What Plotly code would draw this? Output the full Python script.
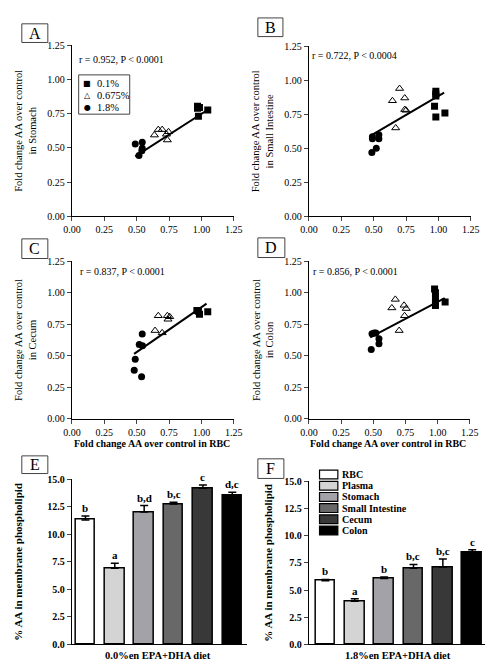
import plotly.graph_objects as go

W, H = 493, 664
FONT = "Liberation Serif"

# ---------------- data ----------------
groups = ["0.1%", "0.675%", "1.8%"]

A_sq_x = [0.97, 0.985, 0.97, 0.977, 1.049]
A_sq_y = [0.805, 0.795, 0.79, 0.731, 0.778]
A_tri_x = [0.637, 0.667, 0.697, 0.746, 0.737, 0.73]
A_tri_y = [0.594, 0.634, 0.634, 0.618, 0.558, 0.60]
A_cir_x = [0.489, 0.543, 0.543, 0.518, 0.54]
A_cir_y = [0.529, 0.541, 0.498, 0.445, 0.48]
A_fit = [0.609, 0.14, 0.489, 1.059]  # slope, intercept, x-start, x-end

B_sq_x = [0.98, 0.98, 0.98, 0.97, 0.98, 1.05]
B_sq_y = [0.92, 0.90, 0.885, 0.81, 0.73, 0.76]
B_tri_x = [0.70, 0.645, 0.74, 0.74, 0.75, 0.67]
B_tri_y = [0.94, 0.85, 0.87, 0.785, 0.78, 0.65]
B_cir_x = [0.486, 0.52, 0.49, 0.49, 0.54, 0.54]
B_cir_y = [0.47, 0.50, 0.57, 0.585, 0.57, 0.60]
B_fit = [0.558, 0.327, 0.474, 1.044]

C_sq_x = [0.977, 0.965, 0.985, 1.049]
C_sq_y = [0.854, 0.86, 0.83, 0.849]
C_tri_x = [0.667, 0.642, 0.737, 0.742, 0.755, 0.697]
C_tri_y = [0.818, 0.70, 0.818, 0.79, 0.81, 0.682]
C_cir_x = [0.543, 0.489, 0.481, 0.538, 0.52, 0.545]
C_cir_y = [0.672, 0.471, 0.385, 0.333, 0.59, 0.58]
C_fit = [0.714, 0.172, 0.48, 1.04]

D_sq_x = [0.976, 0.983, 0.983, 0.983, 0.983, 1.058]
D_sq_y = [1.031, 1.0, 0.96, 0.92, 0.90, 0.927]
D_tri_x = [0.671, 0.644, 0.739, 0.756, 0.743, 0.701]
D_tri_y = [0.948, 0.88, 0.901, 0.875, 0.818, 0.70]
D_cir_x = [0.484, 0.544, 0.544, 0.507, 0.52, 0.49]
D_cir_y = [0.549, 0.635, 0.596, 0.68, 0.68, 0.675]
D_fit = [0.539, 0.39, 0.476, 1.055]

scatter_titles = ["in Stomach", "in Small Intestine", "in Cecum", "in Colon"]
r_texts = ["r = 0.952, P < 0.0001", "r = 0.722, P < 0.0004",
           "r = 0.837, P < 0.0001", "r = 0.856, P < 0.0001"]
scatter_ticks = [0.0, 0.25, 0.5, 0.75, 1.0, 1.25]

tissues = ["RBC", "Plasma", "Stomach", "Small Intestine", "Cecum", "Colon"]
bar_colors = ["#ffffff", "#d4d4d4", "#a2a2a7", "#686868", "#383838", "#000000"]
E_vals = [11.32, 6.92, 12.03, 12.77, 14.2, 13.54]
E_err = [0.35, 0.45, 0.59, 0.15, 0.29, 0.30]
E_letters = ["b", "a", "b,d", "b,c", "c", "d,c"]
F_vals = [5.85, 3.96, 6.07, 7.0, 7.12, 8.47]
F_err = [0.13, 0.24, 0.13, 0.36, 0.75, 0.23]
F_letters = ["b", "a", "b", "b,c", "b,c", "c"]
bar_ticks = [0.0, 2.5, 5.0, 7.5, 10.0, 12.5, 15.0]

# ---------------- layout helpers ----------------
def px(x):
    return x / W

def py(y):
    return 1 - y / H

# pixel boxes: (left, right, top, bottom)
boxes = {
    1: (57, 225, 32, 206),
    2: (303, 471, 33, 206),
    3: (57, 225, 252, 412),
    4: (303, 470, 252, 412),
    5: (57, 239, 474, 642),
    6: (303, 492, 476, 642),
}

fig = go.Figure()

scatter_sets = [
    (A_sq_x, A_sq_y, A_tri_x, A_tri_y, A_cir_x, A_cir_y, A_fit),
    (B_sq_x, B_sq_y, B_tri_x, B_tri_y, B_cir_x, B_cir_y, B_fit),
    (C_sq_x, C_sq_y, C_tri_x, C_tri_y, C_cir_x, C_cir_y, C_fit),
    (D_sq_x, D_sq_y, D_tri_x, D_tri_y, D_cir_x, D_cir_y, D_fit),
]

for i, (sx, sy, tx, ty, cx, cy, fit) in enumerate(scatter_sets):
    n = i + 1
    xa = "x" if n == 1 else f"x{n}"
    ya = "y" if n == 1 else f"y{n}"
    slope, icpt, x0, x1 = fit
    fig.add_trace(go.Scatter(x=[x0, x1], y=[icpt + slope * x0, icpt + slope * x1],
                             mode="lines", line=dict(color="black", width=2),
                             xaxis=xa, yaxis=ya, showlegend=False))
    fig.add_trace(go.Scatter(x=sx, y=sy, mode="markers", name=groups[0],
                             marker=dict(symbol="square", size=7, color="black"),
                             xaxis=xa, yaxis=ya, showlegend=False))
    fig.add_trace(go.Scatter(x=tx, y=ty, mode="markers", name=groups[1],
                             marker=dict(symbol="triangle-up-open", size=7, color="black",
                                         line=dict(width=1, color="black")),
                             xaxis=xa, yaxis=ya, showlegend=False))
    fig.add_trace(go.Scatter(x=cx, y=cy, mode="markers", name=groups[2],
                             marker=dict(symbol="circle", size=7, color="black"),
                             xaxis=xa, yaxis=ya, showlegend=False))

for n, vals, errs in [(5, E_vals, E_err), (6, F_vals, F_err)]:
    fig.add_trace(go.Bar(x=list(range(len(tissues))), y=vals, width=0.67,
                         marker=dict(color=bar_colors, line=dict(color="black", width=1.5)),
                         error_y=dict(type="data", symmetric=False, array=errs,
                                      arrayminus=[0] * len(errs), color="black",
                                      thickness=1.5, width=4),
                         xaxis=f"x{n}", yaxis=f"y{n}", showlegend=False))

layout = dict(width=W, height=H, margin=dict(l=0, r=0, t=0, b=0),
              paper_bgcolor="white", plot_bgcolor="white",
              font=dict(family=FONT, color="black", size=10),
              showlegend=False, bargap=0)

tickfont_s = dict(family=FONT, size=10, color="black")
tickfont_b = dict(family=FONT, size=10, color="black", weight="bold")

for n, (l, r, t, b) in boxes.items():
    xk = "xaxis" if n == 1 else f"xaxis{n}"
    yk = "yaxis" if n == 1 else f"yaxis{n}"
    ya = "y" if n == 1 else f"y{n}"
    xa = "x" if n == 1 else f"x{n}"
    if n <= 4:
        layout[xk] = dict(domain=[px(l), px(r)], range=[0, 1.25], anchor=ya,
                          tickvals=scatter_ticks, tickformat=".2f", ticks="outside",
                          ticklen=4, tickwidth=1, showline=True, linecolor="black",
                          linewidth=1.2, showgrid=False, zeroline=False, tickfont=tickfont_s)
        layout[yk] = dict(domain=[py(b), py(t)], range=[0, 1.25], anchor=xa,
                          tickvals=scatter_ticks, tickformat=".2f", ticks="outside",
                          ticklen=4, tickwidth=1, showline=True, linecolor="black",
                          linewidth=1.2, showgrid=False, zeroline=False, tickfont=tickfont_s,
                          title=dict(text="Fold change AA over control<br>" + scatter_titles[n - 1],
                                     font=dict(family=FONT, size=10.5), standoff=8))
    else:
        rng = [-0.46, 5.51] if n == 5 else [-0.56, 5.64]
        layout[xk] = dict(domain=[px(l), px(r)], range=rng, anchor=ya,
                          showticklabels=False, ticks="", showline=True, linecolor="black",
                          linewidth=1.2, showgrid=False, zeroline=False)
        layout[yk] = dict(domain=[py(b), py(t)], range=[0, 15], anchor=xa,
                          tickvals=bar_ticks, tickformat=".1f", ticks="outside",
                          ticklen=4, tickwidth=1, showline=True, linecolor="black",
                          linewidth=1.2, showgrid=False, zeroline=False, tickfont=tickfont_b,
                          title=dict(text="% AA in membrane phospholipid",
                                     font=dict(family=FONT, size=11, weight="bold"),
                                     standoff=22 if n == 5 else 9))

annotations = []
shapes = []

# panel letters
letter_boxes = {"A": (5, 32, 10, 29), "B": (250, 276, 4, 23), "C": (5, 32, 229, 249),
                "D": (250, 278, 228, 248), "E": (5, 32, 450, 468), "F": (250, 277, 453, 473)}
for lt, (l, r, t, b) in letter_boxes.items():
    shapes.append(dict(type="rect", xref="paper", yref="paper", x0=px(l), x1=px(r),
                       y0=py(b), y1=py(t), line=dict(color="#444444", width=1)))
    annotations.append(dict(text=lt, xref="paper", yref="paper", x=px((l + r) / 2),
                            y=py((t + b) / 2), showarrow=False, xanchor="center",
                            yanchor="middle", font=dict(family=FONT, size=16)))

# r text
r_pos = [(62, 46), (304, 42), (63, 262), (305, 262)]
for i in range(4):
    annotations.append(dict(text=r_texts[i], xref="paper", yref="paper",
                            x=px(r_pos[i][0]), y=py(r_pos[i][1]), showarrow=False,
                            xanchor="left", yanchor="middle", font=dict(family=FONT, size=10)))

for n in (3, 4):
    l, r, t, b = boxes[n]
    annotations.append(dict(text="Fold change AA over control in RBC", xref="paper", yref="paper",
                            x=px((l + r) / 2 - 1), y=py(437), showarrow=False,
                            xanchor="center", yanchor="middle",
                            font=dict(family=FONT, size=10, weight="bold")))

# scatter legend in A
shapes.append(dict(type="rect", xref="paper", yref="paper", x0=px(64), x1=px(117),
                   y0=py(102), y1=py(62), line=dict(color="#444444", width=1)))
leg_syms = ["■", "△", "●"]
for j, g in enumerate(groups):
    annotations.append(dict(text=leg_syms[j], xref="paper", yref="paper", x=px(73),
                            y=py(71 + 12 * j), showarrow=False, xanchor="center",
                            yanchor="middle", font=dict(family="DejaVu Sans", size=8)))
    annotations.append(dict(text=g, xref="paper", yref="paper", x=px(81),
                            y=py(71 + 12 * j), showarrow=False, xanchor="left",
                            yanchor="middle", font=dict(family=FONT, size=10.5)))

# bar panels: x titles, letters
for n, vals, errs, lets, xlab in [
        (5, E_vals, E_err, E_letters, "0.0%en EPA+DHA diet"),
        (6, F_vals, F_err, F_letters, "1.8%en EPA+DHA diet")]:
    l, r, t, b = boxes[n]
    annotations.append(dict(text=xlab, xref="paper", yref="paper", x=px((l + r) / 2 - 2),
                            y=py(653), showarrow=False, xanchor="center", yanchor="middle",
                            font=dict(family=FONT, size=10.5, weight="bold")))
    for k in range(len(vals)):
        annotations.append(dict(text=lets[k], x=k, y=vals[k] + errs[k], xref=f"x{n}",
                                yref=f"y{n}", showarrow=False, xanchor="center",
                                yanchor="bottom", yshift=0,
                                font=dict(family=FONT, size=11, weight="bold")))

# bar legend in F
for k, tname in enumerate(tissues):
    yc = 469 + 11.4 * k
    shapes.append(dict(type="rect", xref="paper", yref="paper", x0=px(314), x1=px(333),
                       y0=py(yc + 4.5), y1=py(yc - 4.5), fillcolor=bar_colors[k],
                       line=dict(color="black", width=1.2)))
    annotations.append(dict(text=tname, xref="paper", yref="paper", x=px(335), y=py(yc),
                            showarrow=False, xanchor="left", yanchor="middle",
                            font=dict(family=FONT, size=10, weight="bold")))

layout["annotations"] = annotations
layout["shapes"] = shapes
fig.update_layout(**layout)
fig.write_html("out.html")
